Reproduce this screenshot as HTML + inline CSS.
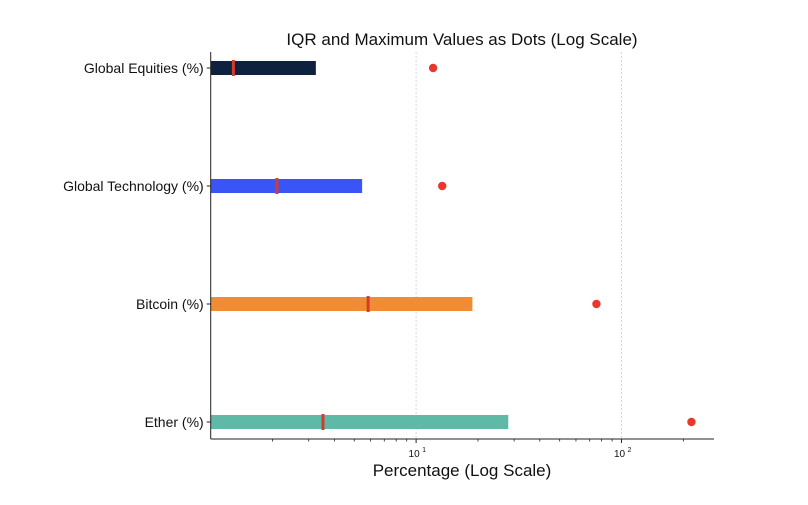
<!DOCTYPE html>
<html><head><meta charset="utf-8"><style>
body{margin:0;background:#fff;font-family:"Liberation Sans",sans-serif}
svg text{font-family:"Liberation Sans",sans-serif;fill:#111}
</style></head><body>
<svg id="c" width="808" height="500" xmlns="http://www.w3.org/2000/svg"></svg>
<script>
const categories=["Global Equities (%)","Global Technology (%)","Bitcoin (%)","Ether (%)"];
const q1Values=[0.5,0.5,0.5,0.5];
const q3Values=[3.25,5.46,18.8,28.1];
const medianValues=[1.29,2.1,5.84,3.52];
const maxValues=[12.1,13.4,75.5,219];
const colors=["#0e2240","#3a55f5","#f08c33","#5ebaa6"];
const majorTicks=[10,100];
const majorLabels=["10","10"];
const majorExp=["1","2"];
const X0=210.7,X1=714,Y0=52,Y1=439,LMIN=0,LMAX=Math.log10(282);
const xs=v=>X0+(Math.log10(Math.max(v,1))-LMIN)/(LMAX-LMIN)*(X1-X0);
const rowY=i=>68+i*118;
const svg=document.getElementById('c');const NS="http://www.w3.org/2000/svg";
function mk(t,a,p){const e=document.createElementNS(NS,t);for(const k in a)e.setAttribute(k,a[k]);(p||svg).appendChild(e);return e;}
// grid
majorTicks.forEach((t,i)=>{const g=mk('line',{x1:xs(t),x2:xs(t),y1:Y0,y2:Y1,stroke:'#ccc','stroke-width':0.8,'stroke-dasharray':'2,2'});

});
// bars
categories.forEach((c,i)=>{const y=rowY(i);
const b=mk('rect',{x:xs(q1Values[i]),y:y-7,width:xs(q3Values[i])-xs(q1Values[i]),height:14,fill:colors[i]});


const m=mk('rect',{x:xs(medianValues[i])-1.5,y:y-8,width:3,height:16,fill:'#d63a2a'});


const d=mk('circle',{cx:xs(maxValues[i]),cy:y,r:4.2,fill:'#e8382b'});


const tk=mk('line',{x1:X0-4,x2:X0,y1:y,y2:y,stroke:'#222','stroke-width':1});


const l=mk('text',{x:X0-7,y:y+5,'text-anchor':'end','font-size':14});l.textContent=c;


});
// axes
mk('line',{x1:X0,x2:X0,y1:Y0,y2:Y1,stroke:'#222','stroke-width':1});
mk('line',{x1:X0,x2:X1,y1:Y1,y2:Y1,stroke:'#222','stroke-width':1});
// minor ticks
[2,3,4,5,6,7,8,9,20,30,40,50,60,70,80,90,200].forEach(v=>mk('line',{x1:xs(v),x2:xs(v),y1:Y1,y2:Y1+2.5,stroke:'#222','stroke-width':0.8}));
majorTicks.forEach((t,i)=>{mk('line',{x1:xs(t),x2:xs(t),y1:Y1,y2:Y1+4,stroke:'#222','stroke-width':1});
const tx=mk('text',{x:xs(t)-2,y:Y1+18,'text-anchor':'middle','font-size':10});tx.textContent=majorLabels[i];


const e=mk('text',{x:xs(t)+6,y:Y1+13,'font-size':7});e.textContent=majorExp[i];});
const xt=mk('text',{x:462,y:476,'text-anchor':'middle','font-size':17});xt.textContent="Percentage (Log Scale)";


const ti=mk('text',{x:462,y:45,'text-anchor':'middle','font-size':17});ti.textContent="IQR and Maximum Values as Dots (Log Scale)";


</script>
</body></html>
